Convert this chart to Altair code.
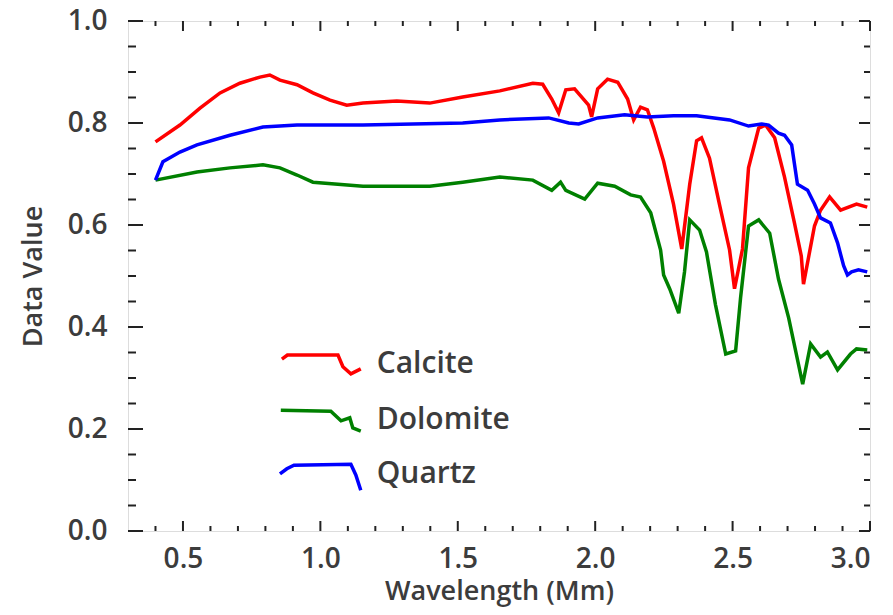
import altair as alt
import pandas as pd

# ---------------- data ----------------
minerals = ["Calcite", "Dolomite", "Quartz"]
colors = ["#FF0000", "#008000", "#0000FF"]

calcite_x = [0.40, 0.489, 0.562, 0.635, 0.707, 0.78, 0.816, 0.853, 0.915, 0.973, 1.035, 1.096,
             1.155, 1.278, 1.398, 1.518, 1.653, 1.773, 1.809, 1.842, 1.867, 1.893, 1.925, 1.976,
             1.987, 2.009, 2.045, 2.082, 2.118, 2.14, 2.165, 2.19, 2.213, 2.249, 2.285, 2.315,
             2.344, 2.369, 2.387, 2.416, 2.452, 2.489, 2.507, 2.536, 2.558, 2.595, 2.62, 2.653,
             2.689, 2.725, 2.75, 2.758, 2.798, 2.82, 2.853, 2.893, 2.951, 2.99]
calcite_y = [0.763, 0.796, 0.829, 0.859, 0.878, 0.89, 0.894, 0.884, 0.875, 0.859, 0.845, 0.835,
             0.839, 0.843, 0.839, 0.851, 0.863, 0.878, 0.876, 0.847, 0.82, 0.865, 0.867, 0.835,
             0.812, 0.867, 0.886, 0.88, 0.847, 0.806, 0.831, 0.826, 0.79, 0.725, 0.641, 0.553,
             0.68, 0.765, 0.771, 0.731, 0.641, 0.551, 0.475, 0.553, 0.712, 0.79, 0.796, 0.771,
             0.694, 0.604, 0.539, 0.484, 0.598, 0.629, 0.655, 0.629, 0.641, 0.635]

dolomite_x = [0.40, 0.551, 0.671, 0.791, 0.853, 0.915, 0.973, 1.155, 1.398, 1.518, 1.653, 1.773,
              1.842, 1.874, 1.893, 1.962, 2.009, 2.071, 2.129, 2.165, 2.202, 2.238, 2.249, 2.271,
              2.304, 2.325, 2.344, 2.38, 2.405, 2.438, 2.475, 2.511, 2.529, 2.558, 2.595, 2.635,
              2.667, 2.704, 2.755, 2.784, 2.82, 2.845, 2.882, 2.929, 2.951, 2.99]
dolomite_y = [0.688, 0.704, 0.712, 0.718, 0.712, 0.698, 0.684, 0.676, 0.676, 0.684, 0.694, 0.688,
              0.668, 0.684, 0.668, 0.651, 0.682, 0.676, 0.659, 0.655, 0.624, 0.551, 0.502, 0.475,
              0.427, 0.508, 0.61, 0.59, 0.547, 0.443, 0.347, 0.353, 0.457, 0.598, 0.61, 0.584,
              0.494, 0.418, 0.288, 0.367, 0.341, 0.351, 0.316, 0.347, 0.357, 0.355]

quartz_x = [0.40, 0.427, 0.489, 0.551, 0.671, 0.791, 0.915, 1.155, 1.518, 1.653, 1.831, 1.904,
            1.94, 2.009, 2.107, 2.19, 2.285, 2.369, 2.489, 2.558, 2.605, 2.631, 2.667, 2.689,
            2.715, 2.725, 2.736, 2.773, 2.798, 2.82, 2.856, 2.882, 2.904, 2.918, 2.933, 2.958, 2.99]
quartz_y = [0.688, 0.724, 0.743, 0.757, 0.776, 0.792, 0.796, 0.796, 0.80, 0.806, 0.81, 0.80,
            0.798, 0.81, 0.816, 0.812, 0.814, 0.814, 0.806, 0.794, 0.798, 0.796, 0.78, 0.776,
            0.757, 0.72, 0.68, 0.668, 0.641, 0.614, 0.604, 0.565, 0.52, 0.502, 0.508, 0.512, 0.508]

# legend swatches (small spectrum snippets drawn in data space)
leg_calcite_x = [0.86, 0.88, 1.064, 1.082, 1.111, 1.147]
leg_calcite_y = [0.337, 0.345, 0.345, 0.322, 0.308, 0.318]
leg_dolomite_x = [0.856, 1.038, 1.075, 1.107, 1.118, 1.147]
leg_dolomite_y = [0.237, 0.235, 0.216, 0.222, 0.202, 0.196]
leg_quartz_x = [0.853, 0.878, 0.904, 1.111, 1.129, 1.147]
leg_quartz_y = [0.112, 0.122, 0.129, 0.131, 0.11, 0.08]

leg_label_x = [1.205, 1.205, 1.205]
leg_label_y = [0.327, 0.218, 0.112]

x_major = [0.5, 1.0, 1.5, 2.0, 2.5, 3.0]
x_minor = [0.4, 0.6, 0.7, 0.8, 0.9, 1.1, 1.2, 1.3, 1.4, 1.6, 1.7, 1.8, 1.9,
           2.1, 2.2, 2.3, 2.4, 2.6, 2.7, 2.8, 2.9]
y_major = [0.0, 0.2, 0.4, 0.6, 0.8, 1.0]
y_minor = [0.05, 0.1, 0.15, 0.25, 0.3, 0.35, 0.45, 0.5, 0.55, 0.65, 0.7, 0.75, 0.85, 0.9, 0.95]

# ---------------- build table ----------------
rows = []
series = [
    ("Calcite", "main", calcite_x, calcite_y),
    ("Dolomite", "main", dolomite_x, dolomite_y),
    ("Quartz", "main", quartz_x, quartz_y),
    ("Calcite", "legend", leg_calcite_x, leg_calcite_y),
    ("Dolomite", "legend", leg_dolomite_x, leg_dolomite_y),
    ("Quartz", "legend", leg_quartz_x, leg_quartz_y),
]
for name, part, xs, ys in series:
    for i, (xv, yv) in enumerate(zip(xs, ys)):
        rows.append({"mineral": name, "part": part, "i": i, "x": xv, "y": yv})
df = pd.DataFrame(rows)

W, H = 742, 510
FONT = "Open Sans"
TXT = "#3c3c3c"

xscale = alt.Scale(domain=[0.3, 3.0], nice=False, zero=False)
yscale = alt.Scale(domain=[0.0, 1.0], nice=False, zero=False)

lines = alt.Chart(df).mark_line(strokeWidth=3.5, clip=True).encode(
    x=alt.X("x:Q", scale=xscale,
            axis=alt.Axis(values=x_major, format=".1f", title="Wavelength (Mm)",
                          ticks=False, domain=False, grid=False, labelPadding=14,
                          labelFontSize=28, labelFont=FONT, labelFontWeight=600,
                          labelColor=TXT, titleFontSize=27, titleFont=FONT,
                          titleFontWeight=600, titleColor=TXT, titlePadding=5)),
    y=alt.Y("y:Q", scale=yscale,
            axis=alt.Axis(values=y_major, format=".1f", title="Data Value",
                          ticks=False, domain=False, grid=False, labelPadding=21,
                          labelFontSize=28, labelFont=FONT, labelFontWeight=600,
                          labelColor=TXT, titleFontSize=27, titleFont=FONT,
                          titleFontWeight=600, titleColor=TXT, titlePadding=20)),
    color=alt.Color("mineral:N", scale=alt.Scale(domain=minerals, range=colors), legend=None),
    detail="part:N",
    order="i:Q",
)

labels_df = pd.DataFrame({"label": minerals, "x": leg_label_x, "y": leg_label_y})
leg_text = alt.Chart(labels_df).mark_text(
    align="left", baseline="middle", font=FONT, fontSize=30, fontWeight=600, color=TXT
).encode(x=alt.X("x:Q", scale=xscale), y=alt.Y("y:Q", scale=yscale), text="label:N")

ymaj_df = pd.DataFrame({"v": y_major})
ymin_df = pd.DataFrame({"v": y_minor})
xmaj_df = pd.DataFrame({"v": x_major})
xmin_df = pd.DataFrame({"v": x_minor})

def yt(data, x0, x1):
    return alt.Chart(data).mark_rule(color="#222", strokeWidth=2).encode(
        y=alt.Y("v:Q", scale=yscale), x=alt.value(x0), x2=alt.value(x1))

def xt(data, y0, y1):
    return alt.Chart(data).mark_rule(color="#222", strokeWidth=2).encode(
        x=alt.X("v:Q", scale=xscale), y=alt.value(y0), y2=alt.value(y1))

ticks = [
    yt(ymaj_df, 0, 15), yt(ymin_df, 0, 8),
    yt(ymaj_df, W - 11, W), yt(ymin_df, W - 6, W),
    xt(xmaj_df, H, H - 10), xt(xmin_df, H, H - 5),
    xt(xmaj_df, 0, 10), xt(xmin_df, 0, 5),
]

chart = alt.layer(lines, leg_text, *ticks).properties(
    width=W, height=H,
    autosize=alt.AutoSizeParams(type="none"),
    padding={"left": 120, "top": 13, "right": 15, "bottom": 76},
).configure_view(stroke="#222", strokeWidth=2).configure(background="white")

chart.save("out.html", embed_options={"renderer": "svg", "actions": False})
